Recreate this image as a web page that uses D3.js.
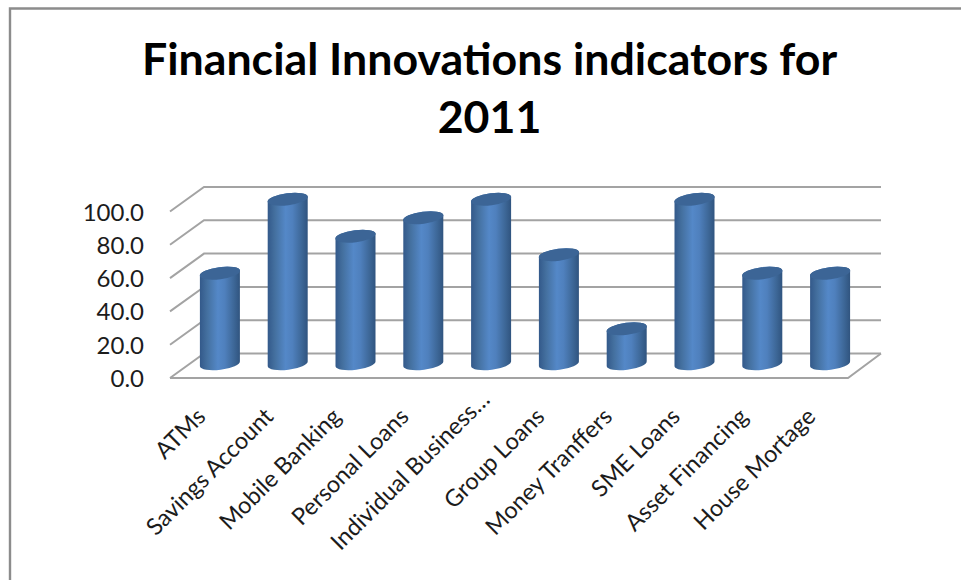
<!DOCTYPE html>
<html>
<head>
<meta charset="utf-8">
<script src="https://cdnjs.cloudflare.com/ajax/libs/d3/7.8.5/d3.min.js"></script>
<style>
html,body{margin:0;padding:0;background:#fff;}
svg{display:block;}
text{font-family:Lato,"Open Sans",sans-serif;fill:#1c1c1c;}
</style>
</head>
<body>
<script>
const titleLines = ["Financial Innovations indicators for", "2011"];
const categories = ["ATMs","Savings Account","Mobile Banking","Personal Loans","Individual Business…","Group Loans","Money Tranffers","SME Loans","Asset Financing","House Mortage"];
const values = [55.6,100,77.8,88.9,100,66.7,22.2,100,55.6,55.6];
const yTicks = [0,20,40,60,80,100];

const W = 961, H = 580;
const svg = d3.select("body").append("svg").attr("width",W).attr("height",H);

// Front edge of the floor and the shift applied to reach the back wall
const depthX = 34, depthY = -24.5;
const x = d3.scaleBand().domain(categories).range([170,848]);
const y = d3.scaleLinear().domain([0,100]).range([378,211.5]);

// Cylinder shading, dark at both edges with a lighter band left of centre
const defs = svg.append("defs");
const grad = defs.append("linearGradient").attr("id","cyl");
[[0,"#33598a"],[0.18,"#44709f"],[0.45,"#5488c8"],[0.62,"#4f80bd"],[0.85,"#3d6797"],[1,"#30547f"]]
  .forEach(([o,c])=>grad.append("stop").attr("offset",o).attr("stop-color",c));

// Outer frame
svg.append("path").attr("d",`M10,580V8.5H${W}`).attr("fill","none").attr("stroke","#8c8c8c").attr("stroke-width",2.4);

// Title
svg.append("g").attr("text-anchor","middle").attr("font-weight",700).attr("font-size",44.7)
  .selectAll("text").data(titleLines).join("text")
  .attr("x",489.5).attr("y",(d,i)=>75+i*58).style("fill","#000").text(d=>d);

// Back-wall gridlines with their side-wall returns
const grid = svg.append("g").attr("fill","none").attr("stroke","#a3a3a3").attr("stroke-width",2);
grid.selectAll("path").data(yTicks).join("path")
  .attr("d",d=>`M${x.range()[0]},${y(d)}L${x.range()[0]+depthX},${y(d)+depthY}H${x.range()[1]+depthX-1}`);
// Floor outline
const y0 = y(0);
grid.append("path").attr("d",`M${x.range()[0]},${y0}H${x.range()[1]}L${x.range()[1]+depthX-1},${y0+depthY}`);

// Value axis labels
svg.append("g").attr("text-anchor","end").attr("font-size",24)
  .selectAll("text").data(yTicks).join("text")
  .attr("x",144).attr("y",d=>y(d)+9).text(d=>d3.format(".1f")(d));

// Cylinders stand halfway between the front edge and the back wall
const rx = 20, ry = 6, tilt = 0.13, baseLift = 2;
const cx = d => x(d)+x.bandwidth()/2+depthX/2-1;
const baseY = y0+depthY/2;
const bars = svg.append("g").selectAll("g").data(categories).join("g");
bars.each(function(c,i){
  const g = d3.select(this);
  const cxv = cx(c);
  const top = baseY-(y(0)-y(values[i]));
  const bottom = baseY-baseLift;
  const dy = rx*tilt;
  g.append("path")
    .attr("d",`M${cxv-rx},${top+dy}L${cxv-rx},${bottom+dy}A${rx},${ry} -7.4 0 0 ${cxv+rx},${bottom-dy}L${cxv+rx},${top-dy}A${rx},${ry} -7.4 0 0 ${cxv-rx},${top+dy}Z`)
    .attr("fill","url(#cyl)");
  g.append("ellipse").attr("cx",cxv).attr("cy",top).attr("rx",rx+0.3).attr("ry",ry)
    .attr("transform",`rotate(-7.4 ${cxv} ${top})`).attr("fill","#3c6596");
});

// Category labels, rotated to read upward toward their column;
// the shortened label sits further along its slant than the others
const slide = c => c.endsWith("…") ? [13,-17] : [0,0];
svg.append("g").attr("text-anchor","end").attr("font-size",23.5)
  .selectAll("text").data(categories).join("text")
  .attr("transform",c=>`translate(${x(c)+x.bandwidth()/2+3+slide(c)[0]},${y0+40+slide(c)[1]}) rotate(-45)`)
  .text(c=>c);
</script>
</body>
</html>
